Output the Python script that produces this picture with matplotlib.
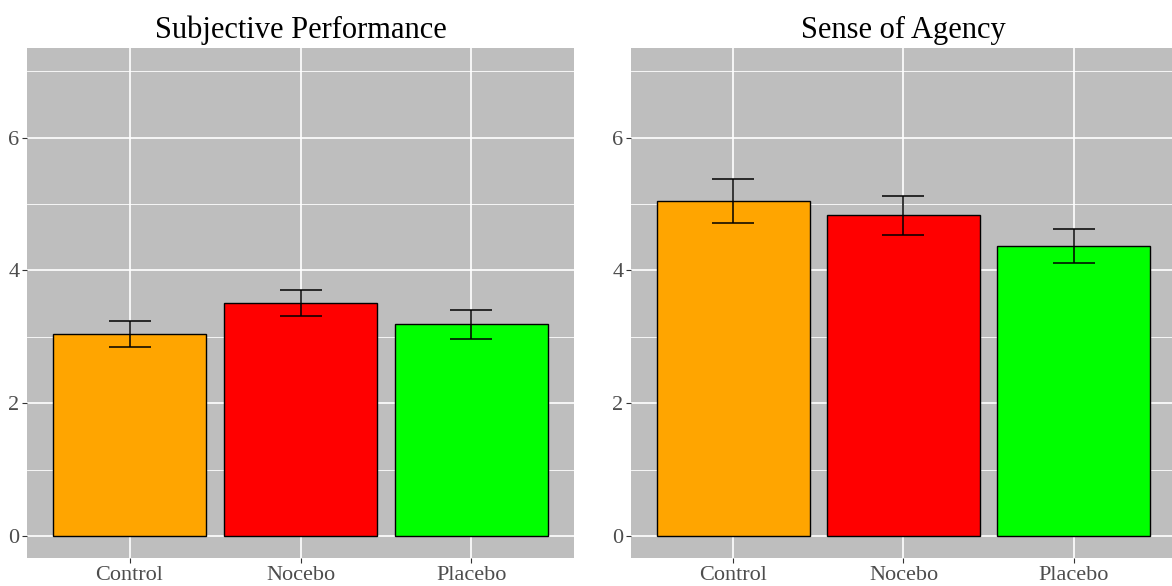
import numpy as np
import matplotlib.pyplot as plt
from matplotlib.ticker import MultipleLocator

plt.rcParams['font.family'] = ['Liberation Serif', 'DejaVu Serif']

# data
groups = ['Control', 'Nocebo', 'Placebo']
colors = ['#FFA500', '#FF0000', '#00FF00']

perf_mean = [3.04, 3.51, 3.19]
perf_se = [0.20, 0.19, 0.215]

agency_mean = [5.05, 4.83, 4.37]
agency_se = [0.33, 0.29, 0.255]

titles = ['Subjective Performance', 'Sense of Agency']

fig = plt.figure(figsize=(11.72, 5.86), dpi=100)
ax1 = fig.add_axes([27 / 1172, 28 / 586, 547 / 1172, 510 / 586])
ax2 = fig.add_axes([631 / 1172, 28 / 586, 545 / 1172, 510 / 586])

x = np.arange(1, len(groups) + 1)

for ax, mean, se, title in zip([ax1, ax2], [perf_mean, agency_mean],
                               [perf_se, agency_se], titles):
    ax.set_facecolor('#bebebe')
    ax.bar(x, mean, width=0.9, color=colors, edgecolor='black', linewidth=1.0, zorder=3)
    ax.errorbar(x, mean, yerr=se, fmt='none', ecolor='black', elinewidth=1.1,
                capsize=15, capthick=1.1, zorder=4)
    ax.set_xlim(0.4, 3.6)
    ax.set_ylim(-0.33, 7.35)
    ax.set_xticks(x)
    ax.set_xticklabels(groups)
    ax.yaxis.set_major_locator(MultipleLocator(2))
    ax.yaxis.set_minor_locator(MultipleLocator(1))
    ax.grid(which='major', color='white', linewidth=1.2, zorder=0)
    ax.grid(which='minor', axis='y', color='white', linewidth=0.6, zorder=0)
    ax.set_axisbelow(True)
    for s in ax.spines.values():
        s.set_visible(False)
    ax.tick_params(which='major', length=3.5, width=0.8, color='#333333',
                   labelcolor='#4d4d4d', labelsize=16, pad=2)
    ax.tick_params(which='minor', length=0)
    ax.set_title(title, fontsize=22, pad=7)

fig.savefig('out.png', dpi=100)
